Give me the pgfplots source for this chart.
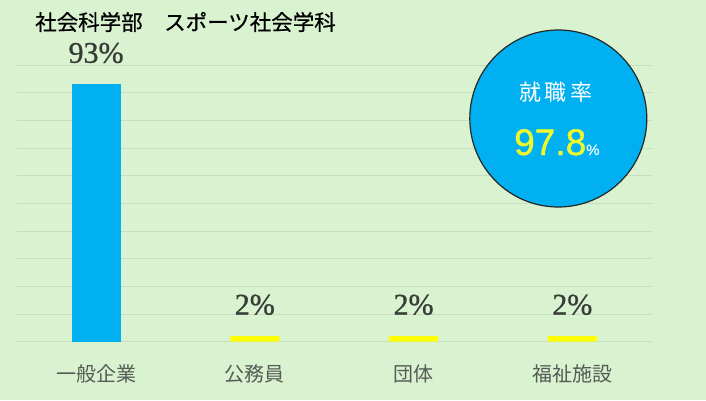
\documentclass[border=0pt]{standalone}
\usepackage{pgfplots}
\pgfplotsset{compat=1.18}
\usepackage{fontspec}
\setmainfont{Liberation Serif}
\newfontfamily\valfont[FakeBold=0.8]{Liberation Serif}
\newfontfamily\jp{Noto Sans CJK JP}
\newfontfamily\jpb[FakeBold=0.6]{Noto Sans CJK JP}
\newfontfamily\lsans[FakeBold=1.2]{Liberation Sans}
\definecolor{bg}{RGB}{217,242,208}
\definecolor{gridc}{RGB}{200,219,195}
\definecolor{cblue}{RGB}{0,176,240}
\definecolor{cyel}{RGB}{255,255,0}
\definecolor{tyel}{RGB}{238,250,45}
\definecolor{labc}{RGB}{85,92,85}
\definecolor{valc}{RGB}{55,60,55}
\begin{document}
\begin{tikzpicture}[x=1pt,y=1pt]
\fill[bg] (0,0) rectangle (706,400);
\begin{axis}[
  at={(16.7pt,58.3pt)}, anchor=south west,
  scale only axis, width=635pt, height=276.7pt,
  xmin=-0.5, xmax=3.5, ymin=0, ymax=100,
  axis line style={draw=none},
  major tick length=0pt,
  tick style={draw=none},
  ytick={0,10,...,100}, yticklabels={},
  ymajorgrids, grid style={gridc, line width=0.9pt},
  xtick={0,1,2,3},
  xticklabels={一般企業,公務員,団体,福祉施設},
  xticklabel style={font=\jp\fontsize{20}{20}\selectfont, text=labc, anchor=base, yshift=-40pt},
  ybar, bar width=49pt,
  clip=false,
  /pgf/number format/assume math mode=true,
  nodes near coords={\pgfmathprintnumber[assume math mode=true]{\pgfplotspointmeta}\%},
  every node near coord/.append style={font=\valfont\fontsize{30}{30}\selectfont, text=valc, anchor=base, inner sep=0pt, yshift=21.6pt},
]
\addplot[fill=cblue, draw=none, bar shift=0pt] coordinates {(0,93)};
\addplot[fill=cyel, draw=none, bar shift=0pt] coordinates {(1,2) (2,2) (3,2)};
\end{axis}
\node[anchor=west, inner sep=0pt, font=\jpb\fontsize{21.5}{21.5}\selectfont] at (35,378) {社会科学部　スポーツ社会学科};
\draw[fill=cblue, draw=black!85, line width=1.2pt] (558.3,281.5) circle (88.5);
\node[inner sep=0pt, text=white, font=\jp\fontsize{22}{22}\selectfont] at (556,308) {就\hspace{4pt}職\hspace{4pt}率};
\node[anchor=base west, inner sep=0pt, font=\lsans] at (514,245) {\textcolor{tyel}{\fontsize{37}{37}\selectfont 97.8}\textcolor{white!90!cblue}{\fontsize{15}{15}\selectfont\%}};
\end{tikzpicture}
\end{document}
